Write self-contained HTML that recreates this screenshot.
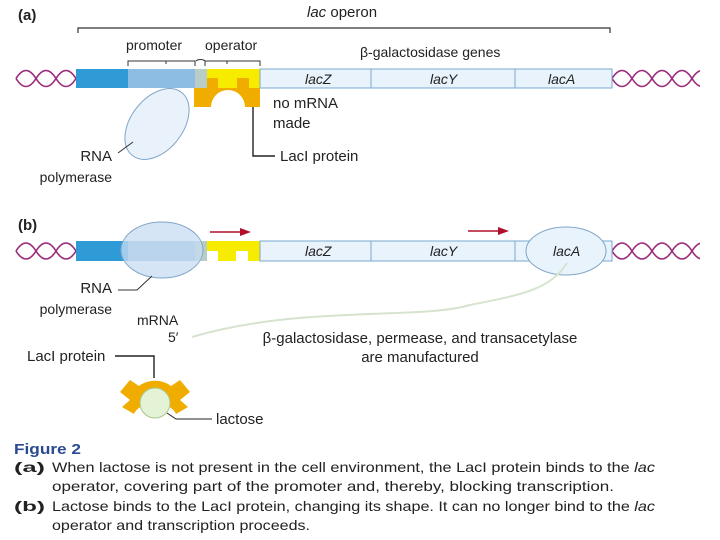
<!DOCTYPE html>
<html><head><meta charset="utf-8"><style>
body{margin:0;background:#fff}
svg{display:block}
text{font-family:"Liberation Sans",Arial,sans-serif;fill:#222}
</style></head><body>
<svg width="720" height="540" viewBox="0 0 720 540" font-family="Liberation Sans, Arial, sans-serif">
<g fill="none" stroke="#9a2a7a" stroke-width="1.6">
<path d="M16 78.5 q10 -16 20 0 t20 0 t20 0"/>
<path d="M16 78.5 q10 16 20 0 t20 0 t20 0"/>
<path d="M612 78.5 q10 -16 20 0 t20 0 t20 0 t20 0 t20 0"/>
<path d="M612 78.5 q10 16 20 0 t20 0 t20 0 t20 0 t20 0"/>
<path d="M16 251 q10 -16 20 0 t20 0 t20 0"/>
<path d="M16 251 q10 16 20 0 t20 0 t20 0"/>
<path d="M612 251 q10 -16 20 0 t20 0 t20 0 t20 0 t20 0"/>
<path d="M612 251 q10 16 20 0 t20 0 t20 0 t20 0 t20 0"/>
</g>
<rect x="700" y="60" width="20" height="210" fill="#fff"/>
<!-- (a) -->
<text x="18" y="20" font-weight="bold" font-size="15">(a)</text>
<text x="307" y="17" font-size="15"><tspan font-style="italic">lac</tspan> operon</text>
<path d="M78 33 V28 H610 V33" fill="none" stroke="#333" stroke-width="1.2"/>
<text x="126" y="50" font-size="14">promoter</text>
<text x="205" y="50" font-size="14">operator</text>
<path d="M128 66 V61 H195 V66 M166 61 v3 M195 61 V66 M196 61 C198 59 203 59 205 61 M205 66 V61 H260 V66 M227 61 v3" fill="none" stroke="#333" stroke-width="1"/>
<text x="360" y="57" font-size="14">β-galactosidase genes</text>
<rect x="76" y="69" width="52" height="19" fill="#2e9bd6"/>
<rect x="128" y="69" width="67" height="19" fill="#8ebde3"/>
<rect x="195" y="69" width="12" height="19" fill="#b9cdc7"/>
<rect x="207" y="69" width="53" height="19" fill="#f7ec00"/>
<rect x="260" y="69" width="352" height="19" fill="#e8f3fb" stroke="#7aaad0"/>
<line x1="371" y1="69" x2="371" y2="88" stroke="#7aaad0"/>
<line x1="515" y1="69" x2="515" y2="88" stroke="#7aaad0"/>
<text x="305" y="84" font-size="14" font-style="italic">lacZ</text>
<text x="430" y="84" font-size="14" font-style="italic">lacY</text>
<text x="548" y="84" font-size="14" font-style="italic">lacA</text>
<path d="M194 88 H207 V78 H218 V88 H237 V78 H249 V88 H260 V107 H245 A17 17 0 0 0 211 107 H194 Z" fill="#f0ad00"/>
<ellipse cx="157" cy="124" rx="26" ry="40" transform="rotate(38 157 124)" fill="#e9f2fb" stroke="#7fa6c9"/>
<path d="M118 153 L133 142" stroke="#333" fill="none"/>
<text x="112" y="161" font-size="15" text-anchor="end">RNA</text>
<text x="112" y="182" font-size="14" text-anchor="end">polymerase</text>
<text x="273" y="108" font-size="15">no mRNA</text>
<text x="273" y="128" font-size="15">made</text>
<path d="M253 107 V156 H275" fill="none" stroke="#222" stroke-width="1.4"/>
<text x="280" y="161" font-size="15">LacI protein</text>
<!-- (b) -->
<text x="18" y="230" font-weight="bold" font-size="15">(b)</text>
<rect x="76" y="241" width="52" height="20" fill="#2e9bd6"/>
<rect x="128" y="241" width="67" height="20" fill="#8ebde3"/>
<rect x="195" y="241" width="12" height="20" fill="#b9cdc7"/>
<path d="M207 241 H260 V261 H248 V251 H236 V261 H218 V251 H207 Z" fill="#f7ec00"/>
<rect x="260" y="241" width="352" height="20" fill="#e8f3fb" stroke="#7aaad0"/>
<line x1="371" y1="241" x2="371" y2="261" stroke="#7aaad0"/>
<line x1="515" y1="241" x2="515" y2="261" stroke="#7aaad0"/>
<ellipse cx="162" cy="250" rx="41" ry="28" fill="#c8dcf2" fill-opacity="0.75" stroke="#7fa6c9"/>
<ellipse cx="566" cy="251" rx="40" ry="24" fill="#e8f3fb" stroke="#7fa6c9"/>
<text x="305" y="256" font-size="14" font-style="italic">lacZ</text>
<text x="430" y="256" font-size="14" font-style="italic">lacY</text>
<text x="553" y="256" font-size="14" font-style="italic">lacA</text>
<path d="M210 232 H242" stroke="#b0102a" stroke-width="1.5"/><path d="M240 228 L251 232 L240 236 Z" fill="#b0102a"/>
<path d="M468 231 H500" stroke="#b0102a" stroke-width="1.5"/><path d="M498 227 L509 231 L498 235 Z" fill="#b0102a"/>
<path d="M192 337 C300 305 420 320 470 305 C520 295 550 290 567 263" fill="none" stroke="#d6e3cf" stroke-width="2"/>
<path d="M118 290 H137 L152 276" fill="none" stroke="#333"/>
<text x="112" y="293" font-size="15" text-anchor="end">RNA</text>
<text x="112" y="314" font-size="14" text-anchor="end">polymerase</text>
<text x="137" y="325" font-size="14">mRNA</text>
<text x="168" y="342" font-size="14">5′</text>
<text x="420" y="343" font-size="15" text-anchor="middle">β-galactosidase, permease, and transacetylase</text>
<text x="420" y="362" font-size="15" text-anchor="middle">are manufactured</text>
<text x="27" y="361" font-size="15">LacI protein</text>
<path d="M115 356 H154 V378" fill="none" stroke="#222" stroke-width="1.4"/>
<path d="M120 392 L130 380 L139 386 C148 379 162 379 171 386 L180 380 L190 392 L180 400 L188 407 L176 414 C170 400 140 400 134 414 L122 407 L130 400 Z" fill="#f0ad00"/>
<circle cx="155" cy="403" r="15" fill="#e4f2d6" stroke="#a9c78e"/>
<path d="M167 413 L176 419 H212" fill="none" stroke="#222"/>
<text x="216" y="424" font-size="15">lactose</text>
<!-- caption -->
<text x="14" y="454" font-size="15" font-weight="bold" style="fill:#2a4a92" textLength="67" lengthAdjust="spacingAndGlyphs">Figure 2</text>
<g font-size="14">
<text x="14" y="472" font-weight="bold" textLength="31" lengthAdjust="spacingAndGlyphs">(a)</text>
<text x="52" y="472" textLength="603" lengthAdjust="spacingAndGlyphs">When lactose is not present in the cell environment, the LacI protein binds to the <tspan font-style="italic">lac</tspan></text>
<text x="52" y="491" textLength="562" lengthAdjust="spacingAndGlyphs">operator, covering part of the promoter and, thereby, blocking transcription.</text>
<text x="14" y="511" font-weight="bold" textLength="31" lengthAdjust="spacingAndGlyphs">(b)</text>
<text x="52" y="511" textLength="603" lengthAdjust="spacingAndGlyphs">Lactose binds to the LacI protein, changing its shape. It can no longer bind to the <tspan font-style="italic">lac</tspan></text>
<text x="52" y="530" textLength="258" lengthAdjust="spacingAndGlyphs">operator and transcription proceeds.</text>
</g>
</svg>
</body></html>
